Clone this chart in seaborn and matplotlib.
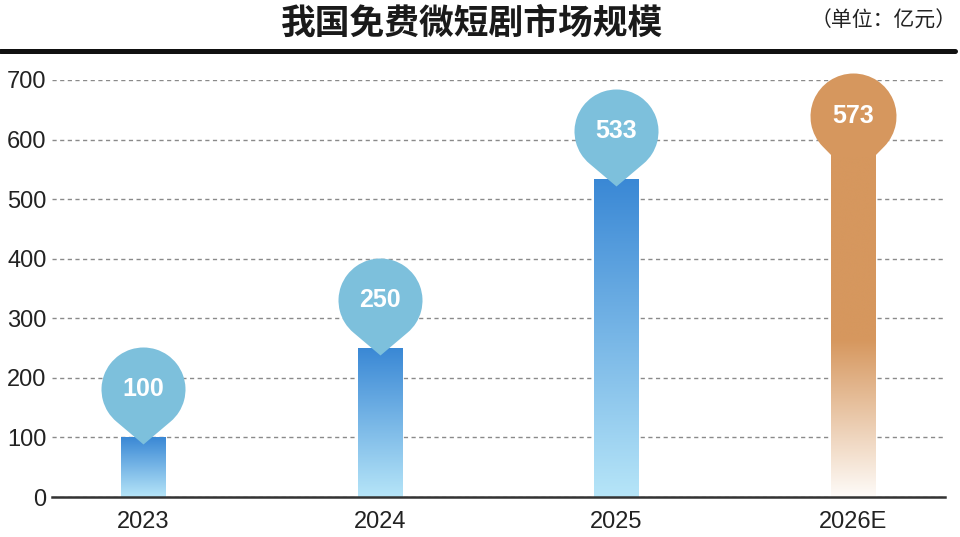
import numpy as np
import pandas as pd
import matplotlib
matplotlib.use("Agg")
import matplotlib.pyplot as plt
import seaborn as sns
from matplotlib.path import Path
from matplotlib.lines import Line2D
from matplotlib.colors import LinearSegmentedColormap

# data
years = ["2023", "2024", "2025", "2026E"]
values = [100, 250, 533, 573]
is_estimate = [False, False, False, True]

sns.set_theme(style="white")
plt.rcParams["font.family"] = ["Liberation Sans", "Noto Sans CJK SC", "DejaVu Sans"]

df = pd.DataFrame({"year": years, "value": values})

fig = plt.figure(figsize=(9.6, 5.37), dpi=100)
ax = fig.add_axes([52 / 960, 1 - 497 / 537, (945 - 52) / 960, (497 - 80) / 537])

sns.barplot(data=df, x="year", y="value", width=0.186, color="white", ax=ax,
            linewidth=0, zorder=2)

# gradient fill for the bars
blue_cmap = LinearSegmentedColormap.from_list("blue", ["#b6e5f8", "#3a88d5"])
orange_cmap = LinearSegmentedColormap.from_list(
    "orange", [(0, "#fefbf8"), (0.46, "#d6975e"), (1, "#d6975e")])
grad = np.linspace(0, 1, 256).reshape(-1, 1)
for patch, est in zip(ax.patches, is_estimate):
    x0, w, h = patch.get_x(), patch.get_width(), patch.get_height()
    patch.set_facecolor("none")
    ax.imshow(grad, extent=[x0, x0 + w, 0, h], origin="lower", aspect="auto",
              cmap=orange_cmap if est else blue_cmap, interpolation="bicubic",
              zorder=2)


# pin shapes (units = pixels, origin = bar top)
def teardrop(r=42, c=48, tip=-7):
    a = np.degrees(np.arccos(r / (c - tip)))
    arc = Path.arc(-90 + a, 270 - a)
    verts = np.vstack([[[0, tip]], arc.vertices * r + [0, c], [[0, tip]]])
    codes = [Path.MOVETO, Path.LINETO] + list(arc.codes[1:]) + [Path.CLOSEPOLY]
    return Path(verts, codes)


def bulb(r=43, c=40, half=20, flare=31):
    yj = c - np.sqrt(r ** 2 - flare ** 2)
    a = np.degrees(np.arctan2(yj - c, flare))
    arc = Path.arc(a, 180 - a)
    verts = [[half, -1], [flare, yj]]
    codes = [Path.MOVETO, Path.LINETO]
    verts += list(arc.vertices[1:] * r + [0, c])
    codes += list(arc.codes[1:])
    verts += [[-half, -1], [half, -1]]
    codes += [Path.LINETO, Path.CLOSEPOLY]
    return Path(np.array(verts), codes)


for i, (v, est) in enumerate(zip(values, is_estimate)):
    pin = bulb() if est else teardrop()
    ms = 2 * np.abs(pin.vertices).max() * 72 / 100
    ax.scatter([i], [v], marker=pin, s=ms ** 2, linewidths=0,
               color="#d6975e" if est else "#7dc0dc", zorder=4, clip_on=False)
    off = 40 if est else 48
    ax.annotate(str(v), (i, v), xytext=(0, off * 0.72), textcoords="offset points",
                ha="center", va="center", color="white", fontsize=18,
                fontweight="bold", zorder=5, annotation_clip=False)

ax.set_xlim(-0.384, 3.388)
ax.set_ylim(0, 700)
ax.set_yticks(range(0, 701, 100))
ax.set_xlabel("")
ax.set_ylabel("")
ax.yaxis.grid(True, linestyle=(0, (3, 2.5)), color="#8a8a8a", linewidth=1)
ax.set_axisbelow(True)
for s in ["left", "right", "top"]:
    ax.spines[s].set_visible(False)
ax.spines["bottom"].set_color("#333333")
ax.spines["bottom"].set_linewidth(1.8)
ax.tick_params(axis="y", length=0, pad=4, labelsize=17, labelcolor="#222222")
ax.tick_params(axis="x", length=0, pad=10, labelsize=17, labelcolor="#222222")

fig.text(0.492, 0.957, "我国免费微短剧市场规模", ha="center", va="center",
         fontsize=25, fontweight="bold", family=["Noto Sans CJK SC"], color="#1a1a1a")
fig.text(0.996, 0.962, "（单位：亿元）", ha="right", va="center",
         fontsize=15, family=["Noto Sans CJK SC"], color="#222222")
fig.add_artist(Line2D([0, 0.995], [1 - 50.5 / 537] * 2, color="#111111", lw=3.6))

fig.savefig("out.png", dpi=100)
